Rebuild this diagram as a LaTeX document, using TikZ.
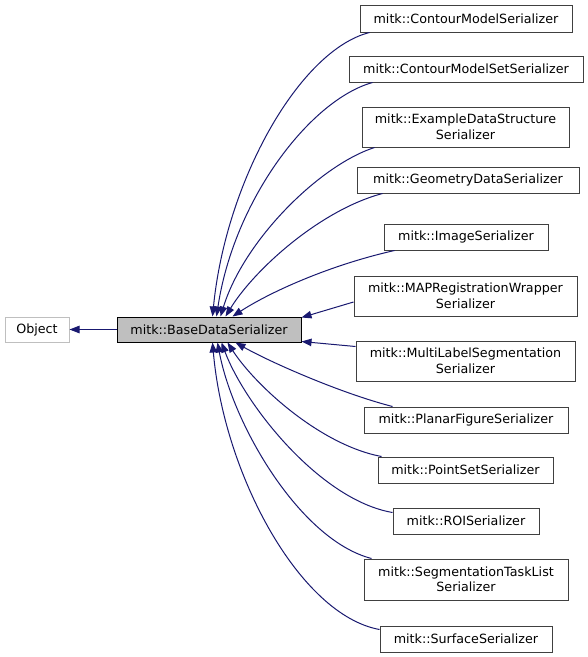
\documentclass[tikz,border=0pt]{standalone}
\usepackage{fontspec}
\setmainfont{DejaVu Sans}
\usetikzlibrary{arrows.meta,calc}
\definecolor{edgeblue}{HTML}{191970}
\definecolor{boxborder}{HTML}{404040}
\definecolor{basefill}{HTML}{BFBFBF}
\begin{document}
\begin{tikzpicture}[x=1pt,y=-1pt,
  cls/.style={draw=boxborder,fill=white,line width=1pt,inner sep=0pt,align=center,font=\fontsize{12.7}{15.5}\selectfont},
  edge/.style={draw=edgeblue,line width=1pt,-{Triangle[length=10pt,width=7.5pt]}}]
\useasboundingbox (0,0) rectangle (588,657);
\fill[white] (0,0) rectangle (588,657);
% nodes
\node[cls,draw=basefill,minimum width=64pt,minimum height=25pt] (obj) at (37,329.5) {Object};
\node[cls,draw=black,fill=basefill,minimum width=184pt,minimum height=25pt] (base) at (209,329.5) {mitk::BaseDataSerializer};
\node[cls,minimum width=212pt,minimum height=27pt] (c1) at (466,18.5) {mitk::ContourModelSerializer};
\node[cls,minimum width=234pt,minimum height=26pt] (c2) at (466,69) {mitk::ContourModelSetSerializer};
\node[cls,minimum width=207pt,minimum height=40pt] (c3) at (465.5,127) {mitk::ExampleDataStructure\\Serializer};
\node[cls,minimum width=222pt,minimum height=26pt] (c4) at (468,180) {mitk::GeometryDataSerializer};
\node[cls,minimum width=164pt,minimum height=26pt] (c5) at (466,237) {mitk::ImageSerializer};
\node[cls,minimum width=223pt,minimum height=40pt] (c6) at (465.5,296) {mitk::MAPRegistrationWrapper\\Serializer};
\node[cls,minimum width=219pt,minimum height=40pt] (c7) at (465.5,361) {mitk::MultiLabelSegmentation\\Serializer};
\node[cls,minimum width=204pt,minimum height=26pt] (c8) at (466,420) {mitk::PlanarFigureSerializer};
\node[cls,minimum width=175pt,minimum height=26pt] (c9) at (465.5,470) {mitk::PointSetSerializer};
\node[cls,minimum width=146pt,minimum height=26pt] (c10) at (466,521) {mitk::ROISerializer};
\node[cls,minimum width=204pt,minimum height=41pt] (c11) at (466,579.5) {mitk::SegmentationTaskList\\Serializer};
\node[cls,minimum width=172pt,minimum height=26pt] (c12) at (466,639) {mitk::SurfaceSerializer};
% edges
\draw[edge] (base.west) -- (obj.east);
\draw[edge] ([xshift=10pt]c1.south west) .. controls (300,50) and (226,180) .. ([xshift=96pt]base.north west);
\draw[edge] ([xshift=24pt]c2.south west) .. controls (310,100) and (234,200) .. ([xshift=100pt]base.north west);
\draw[edge] ([xshift=13pt]c3.south west) .. controls (320,165) and (244,240) .. ([xshift=104pt]base.north west);
\draw[edge] ([xshift=26pt]c4.south west) .. controls (320,210) and (254,270) .. ([xshift=109pt]base.north west);
\draw[edge] ([xshift=11pt]c5.south west) .. controls (330,265) and (270,292) .. ([xshift=116pt]base.north west);
\draw[edge] ([yshift=-6pt]c6.west) -- ([yshift=-1pt]base.north east);
\draw[edge] ([yshift=-6pt]c7.north west) -- ([yshift=1pt]base.south east);
\draw[edge] ([xshift=29pt]c8.north west) .. controls (340,393) and (270,362) .. ([xshift=119pt]base.south west);
\draw[edge] ([xshift=4pt]c9.north west) .. controls (320,445) and (255,385) .. ([xshift=111pt]base.south west);
\draw[edge] ([yshift=-5pt]c10.north west) .. controls (320,500) and (245,405) .. ([xshift=105pt]base.south west);
\draw[edge] ([xshift=8pt]c11.north west) .. controls (300,540) and (233,425) .. ([xshift=101pt]base.south west);
\draw[edge] ([yshift=-4pt]c12.north west) .. controls (300,615) and (224,475) .. ([xshift=96pt]base.south west);
\end{tikzpicture}
\end{document}
